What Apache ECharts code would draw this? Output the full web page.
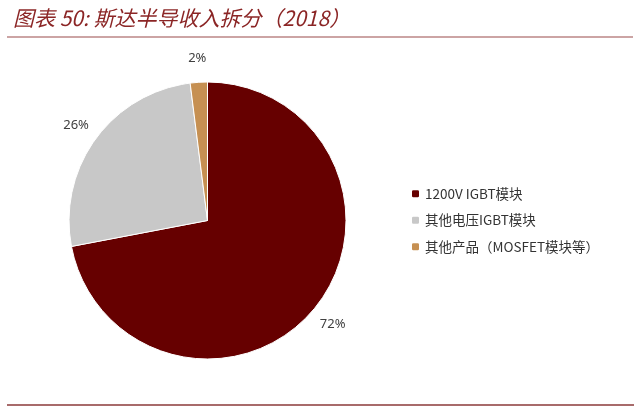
<!DOCTYPE html>
<html>
<head>
<meta charset="utf-8">
<title>斯达半导收入拆分</title>
<script src="https://cdn.jsdelivr.net/npm/echarts@6/dist/echarts.min.js"></script>
<style>
  html, body { margin: 0; padding: 0; background: #fff; }
  #main { width: 640px; height: 408px; }
</style>
</head>
<body>
<div id="main"></div>
<script>
// 数据
var categories = ['1200V IGBT模块', '其他电压IGBT模块', '其他产品（MOSFET模块等）']
var shares = [72, 26, 2]
var colors = ['#660000', '#C8C8C8', '#C69052']

var titleText = '图表 50: 斯达半导收入拆分（2018）'

function buildData () {
  var arr = []
  for (var i = 0; i < categories.length; i++) {
    arr.push({ name: categories[i], value: shares[i], itemStyle: { color: colors[i] } })
  }
  return arr
}

var myChart = echarts.init(document.getElementById('main'))
var pieData = buildData()

var option = {
  backgroundColor: '#fff',
  animation: false,
  title: {
    text: titleText,
    left: 8,
    top: 3,
    textStyle: {
      fontFamily: 'Noto Sans CJK SC',
      fontStyle: 'italic',
      fontWeight: 'normal',
      fontSize: 21,
      color: '#8B2525'
    }
  },
  // 标题下和底部的分隔线
  graphic: [
    { type: 'line', shape: { x1: 7, y1: 37, x2: 633, y2: 37 }, style: { stroke: '#9A4A4A', lineWidth: 1.2 } },
    { type: 'line', shape: { x1: 7, y1: 405, x2: 634, y2: 405 }, style: { stroke: '#8B3A3A', lineWidth: 1.5 } }
  ],
  legend: {
    orient: 'vertical',
    left: 405,
    top: 182,
    itemWidth: 9,
    itemHeight: 9,
    itemGap: 13,
    data: categories,
    textStyle: { fontFamily: 'Noto Sans CJK SC', fontSize: 13.5, color: '#333' }
  },
  series: [
    {
      name: '收入拆分',
      type: 'pie',
      center: [207.5, 220.5],
      radius: 138.5,
      startAngle: 90,
      clockwise: true,
      data: pieData,
      itemStyle: { borderColor: '#fff', borderWidth: 1 },
      label: { show: false },
      labelLine: { show: false }
    },
    {
      // 透明外环, 只用来放百分比标签
      name: '标签',
      type: 'pie',
      center: [207.5, 220.5],
      radius: [139, 180],
      startAngle: 90,
      clockwise: true,
      silent: true,
      legendHoverLink: false,
      data: shares.map(function (v, i) { return { name: categories[i], value: v } }),
      itemStyle: { color: 'rgba(0,0,0,0)' },
      label: {
        show: true,
        position: 'inside',
        formatter: '{c}%',
        fontFamily: 'Noto Sans',
        fontSize: 13,
        color: '#404040'
      },
      labelLine: { show: false }
    }
  ]
}

myChart.setOption(option)
</script>
</body>
</html>
